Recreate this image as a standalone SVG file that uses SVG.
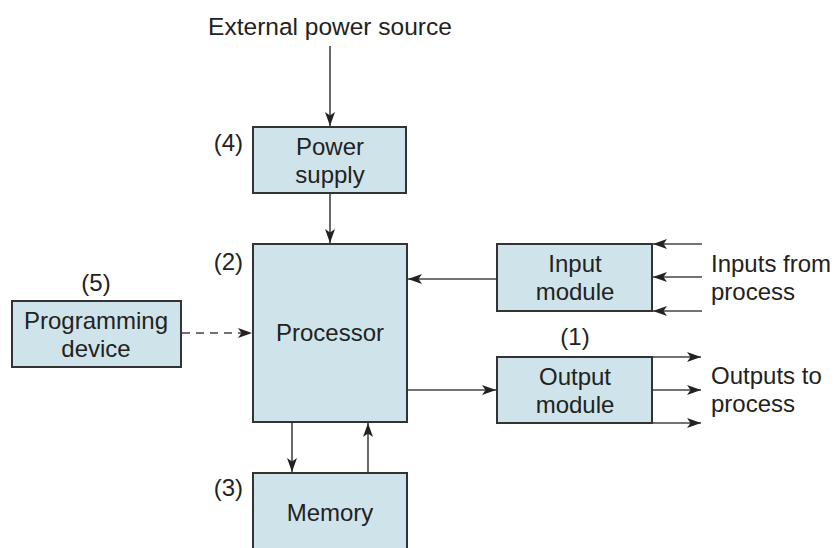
<svg xmlns="http://www.w3.org/2000/svg" width="835" height="548" viewBox="0 0 835 548">
<style>
.box{fill:#cfe4ea;stroke:#333;stroke-width:2}
.t{font-family:"Liberation Sans",Arial,sans-serif;font-size:24px;fill:#222;text-anchor:middle}
.l{font-family:"Liberation Sans",Arial,sans-serif;font-size:24px;fill:#222}
.c{stroke:#444;stroke-width:1.6;fill:none;marker-end:url(#ah)}
.d{stroke-dasharray:8,6}
</style>
<defs>
<marker id="ah" viewBox="0 0 14 10" refX="14" refY="5" markerWidth="14" markerHeight="10" markerUnits="userSpaceOnUse" orient="auto">
<path d="M0,0 L14,5 L0,10 L3.5,5 z" fill="#222"/>
</marker>
</defs>
<rect width="835" height="548" fill="#fff"/>
<text class="t" x="330" y="35" style="font-size:24.5px">External power source</text>
<g id="connectors">
<line class="c" x1="330" y1="46" x2="330" y2="126"/>
<line class="c" x1="330" y1="194" x2="330" y2="243"/>
<line class="c" x1="497" y1="279" x2="408" y2="279"/>
<line class="c" x1="408" y1="390" x2="496" y2="390"/>
<line class="c d" x1="182" y1="333" x2="252" y2="333"/>
<line class="c" x1="292" y1="422" x2="292" y2="472"/>
<line class="c" x1="368" y1="473" x2="368" y2="423"/>
<line class="c" x1="702" y1="244" x2="653" y2="244"/>
<line class="c" x1="702" y1="277" x2="653" y2="277"/>
<line class="c" x1="702" y1="311" x2="653" y2="311"/>
<line class="c" x1="652" y1="357" x2="701" y2="357"/>
<line class="c" x1="652" y1="390" x2="701" y2="390"/>
<line class="c" x1="652" y1="423" x2="701" y2="423"/>
</g>
<g id="power">
<rect class="box" x="253" y="127" width="153" height="66"/>
<text class="t" x="330" y="155">Power</text>
<text class="t" x="330" y="183">supply</text>
<text class="l" x="243" y="151" text-anchor="end">(4)</text>
</g>
<g id="processor">
<rect class="box" x="253" y="244" width="154" height="178"/>
<text class="t" x="330" y="341">Processor</text>
<text class="l" x="243" y="270" text-anchor="end">(2)</text>
</g>
<g id="memory">
<rect class="box" x="253" y="473" width="154" height="90"/>
<text class="t" x="330" y="521">Memory</text>
<text class="l" x="243" y="496" text-anchor="end">(3)</text>
</g>
<g id="programming">
<rect class="box" x="12" y="301" width="169" height="66"/>
<text class="t" x="96" y="329">Programming</text>
<text class="t" x="96" y="357">device</text>
<text class="t" x="96" y="291">(5)</text>
</g>
<g id="input">
<rect class="box" x="497" y="244" width="155" height="67"/>
<text class="t" x="575" y="272">Input</text>
<text class="t" x="575" y="300">module</text>
<text class="l" x="711" y="272">Inputs from</text>
<text class="l" x="711" y="300">process</text>
</g>
<g id="output">
<rect class="box" x="497" y="357" width="155" height="66"/>
<text class="t" x="575" y="385">Output</text>
<text class="t" x="575" y="413">module</text>
<text class="t" x="575" y="345">(1)</text>
<text class="l" x="711" y="384">Outputs to</text>
<text class="l" x="711" y="412">process</text>
</g>
</svg>
